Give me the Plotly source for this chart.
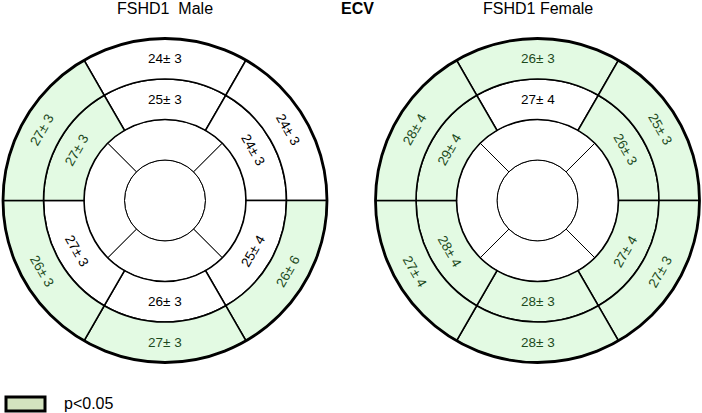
import numpy as np
import plotly.graph_objects as go

# bull's-eye data, segments listed clockwise from the top (0, 60, ..., 300 deg)
panel_titles = ["FSHD1  Male", "FSHD1 Female"]
seg_angles = [0, 60, 120, 180, 240, 300]
apical_angles = [0, 90, 180, 270]

basal_labels = [
    ["24± 3", "24± 3", "26± 6", "27± 3", "26± 3", "27± 3"],
    ["26± 3", "25± 3", "27± 3", "28± 3", "27± 4", "28± 4"],
]
basal_sig = [
    [0, 0, 1, 1, 1, 1],
    [1, 1, 1, 1, 1, 1],
]
mid_labels = [
    ["25± 3", "24± 3", "25± 4", "26± 3", "27± 3", "27± 3"],
    ["27± 4", "26± 3", "27± 4", "28± 3", "28± 4", "29± 4"],
]
mid_sig = [
    [0, 0, 0, 0, 0, 1],
    [0, 1, 1, 1, 1, 1],
]

W, H = 702, 413
centers = [(165, 200.5), (537.5, 200.5)]   # px from top-left
R = 162
GREEN = "#e3fae3"
GREEN_TXT = "#1d4a1d"
FONT = "Liberation Sans, Arial, sans-serif"

fig = go.Figure()


def fill(sig):
    return [GREEN if s else "white" for s in sig]


for k in range(2):
    cx, cy = centers[k]
    dx = [(cx - R) / W, (cx + R) / W]
    dy = [(H - cy - R) / H, (H - cy + R) / H]
    pname = "polar" if k == 0 else "polar2"

    fig.add_trace(go.Barpolar(
        r=[1], base=[0], theta=[0], width=[360], subplot=pname,
        marker=dict(color="white", line=dict(color="black", width=1)),
        showlegend=False, hoverinfo="skip"))
    fig.add_trace(go.Barpolar(
        r=[1] * 4, base=[1] * 4, theta=apical_angles, width=[90] * 4, subplot=pname,
        marker=dict(color="white", line=dict(color="black", width=1)),
        showlegend=False, hoverinfo="skip"))
    fig.add_trace(go.Barpolar(
        r=[1] * 6, base=[2] * 6, theta=seg_angles, width=[60] * 6, subplot=pname,
        marker=dict(color=fill(mid_sig[k]), line=dict(color="black", width=1.6)),
        showlegend=False, hoverinfo="skip"))
    fig.add_trace(go.Barpolar(
        r=[1] * 6, base=[3] * 6, theta=seg_angles, width=[60] * 6, subplot=pname,
        marker=dict(color=fill(basal_sig[k]), line=dict(color="black", width=1.6)),
        showlegend=False, hoverinfo="skip"))

    fig.layout[pname] = dict(
        domain=dict(x=dx, y=dy),
        bgcolor="white",
        hole=0,
        bargap=0,
        radialaxis=dict(range=[0, 4], visible=False),
        angularaxis=dict(direction="clockwise", rotation=90, showticklabels=False,
                         ticks="", showgrid=False, showline=True,
                         linecolor="black", linewidth=2.8),
    )

    # hidden cartesian overlay for rotated labels
    xa = "xaxis" if k == 0 else "xaxis2"
    ya = "yaxis" if k == 0 else "yaxis2"
    fig.layout[xa] = dict(domain=dx, range=[-4, 4], visible=False, fixedrange=True)
    fig.layout[ya] = dict(domain=dy, range=[-4, 4], visible=False, fixedrange=True)
    xref = "x" if k == 0 else "x2"
    yref = "y" if k == 0 else "y2"

    for ring_r, labels, sig in [(3.5, basal_labels[k], basal_sig[k]),
                                (2.5, mid_labels[k], mid_sig[k])]:
        for ang, lab, s in zip(seg_angles, labels, sig):
            t = np.deg2rad(ang)
            rot = ang if (ang <= 90 or ang >= 270) else ang - 180
            if rot >= 270:
                rot -= 360
            fig.add_annotation(
                x=ring_r * np.sin(t), y=ring_r * np.cos(t), xref=xref, yref=yref,
                text=lab, showarrow=False, textangle=rot,
                xanchor="center", yanchor="middle",
                font=dict(family=FONT, size=13.5, color=GREEN_TXT if s else "black"))

    fig.add_annotation(x=cx / W, y=1 - 8.5 / H, xref="paper", yref="paper",
                       text=panel_titles[k], showarrow=False,
                       xanchor="center", yanchor="middle",
                       font=dict(family=FONT, size=16, color="black"))

# dummy points so the overlay axes exist
fig.add_trace(go.Scatter(x=[None], y=[None], xaxis="x", yaxis="y", showlegend=False))
fig.add_trace(go.Scatter(x=[None], y=[None], xaxis="x2", yaxis="y2", showlegend=False))

fig.add_annotation(x=357 / W, y=1 - 8.5 / H, xref="paper", yref="paper",
                   text="<b>ECV</b>", showarrow=False,
                   xanchor="center", yanchor="middle",
                   font=dict(family=FONT, size=16, color="black"))

# legend box
fig.add_shape(type="rect", xref="paper", yref="paper",
              x0=6 / W, x1=45 / W, y0=1 - 411 / H, y1=1 - 397 / H,
              fillcolor="#d3e3bf", line=dict(color="black", width=3))
fig.add_annotation(x=62 / W, y=1 - 403 / H, xref="paper", yref="paper",
                   text="p<0.05", showarrow=False, xanchor="left", yanchor="middle",
                   font=dict(family=FONT, size=16, color="black"))

fig.update_layout(
    width=W, height=H,
    margin=dict(l=0, r=0, t=0, b=0),
    paper_bgcolor="white",
    plot_bgcolor="rgba(0,0,0,0)",
    showlegend=False,
)

fig.write_html("out.html", config={"displayModeBar": False},
               post_script="document.body.style.margin='0';")
